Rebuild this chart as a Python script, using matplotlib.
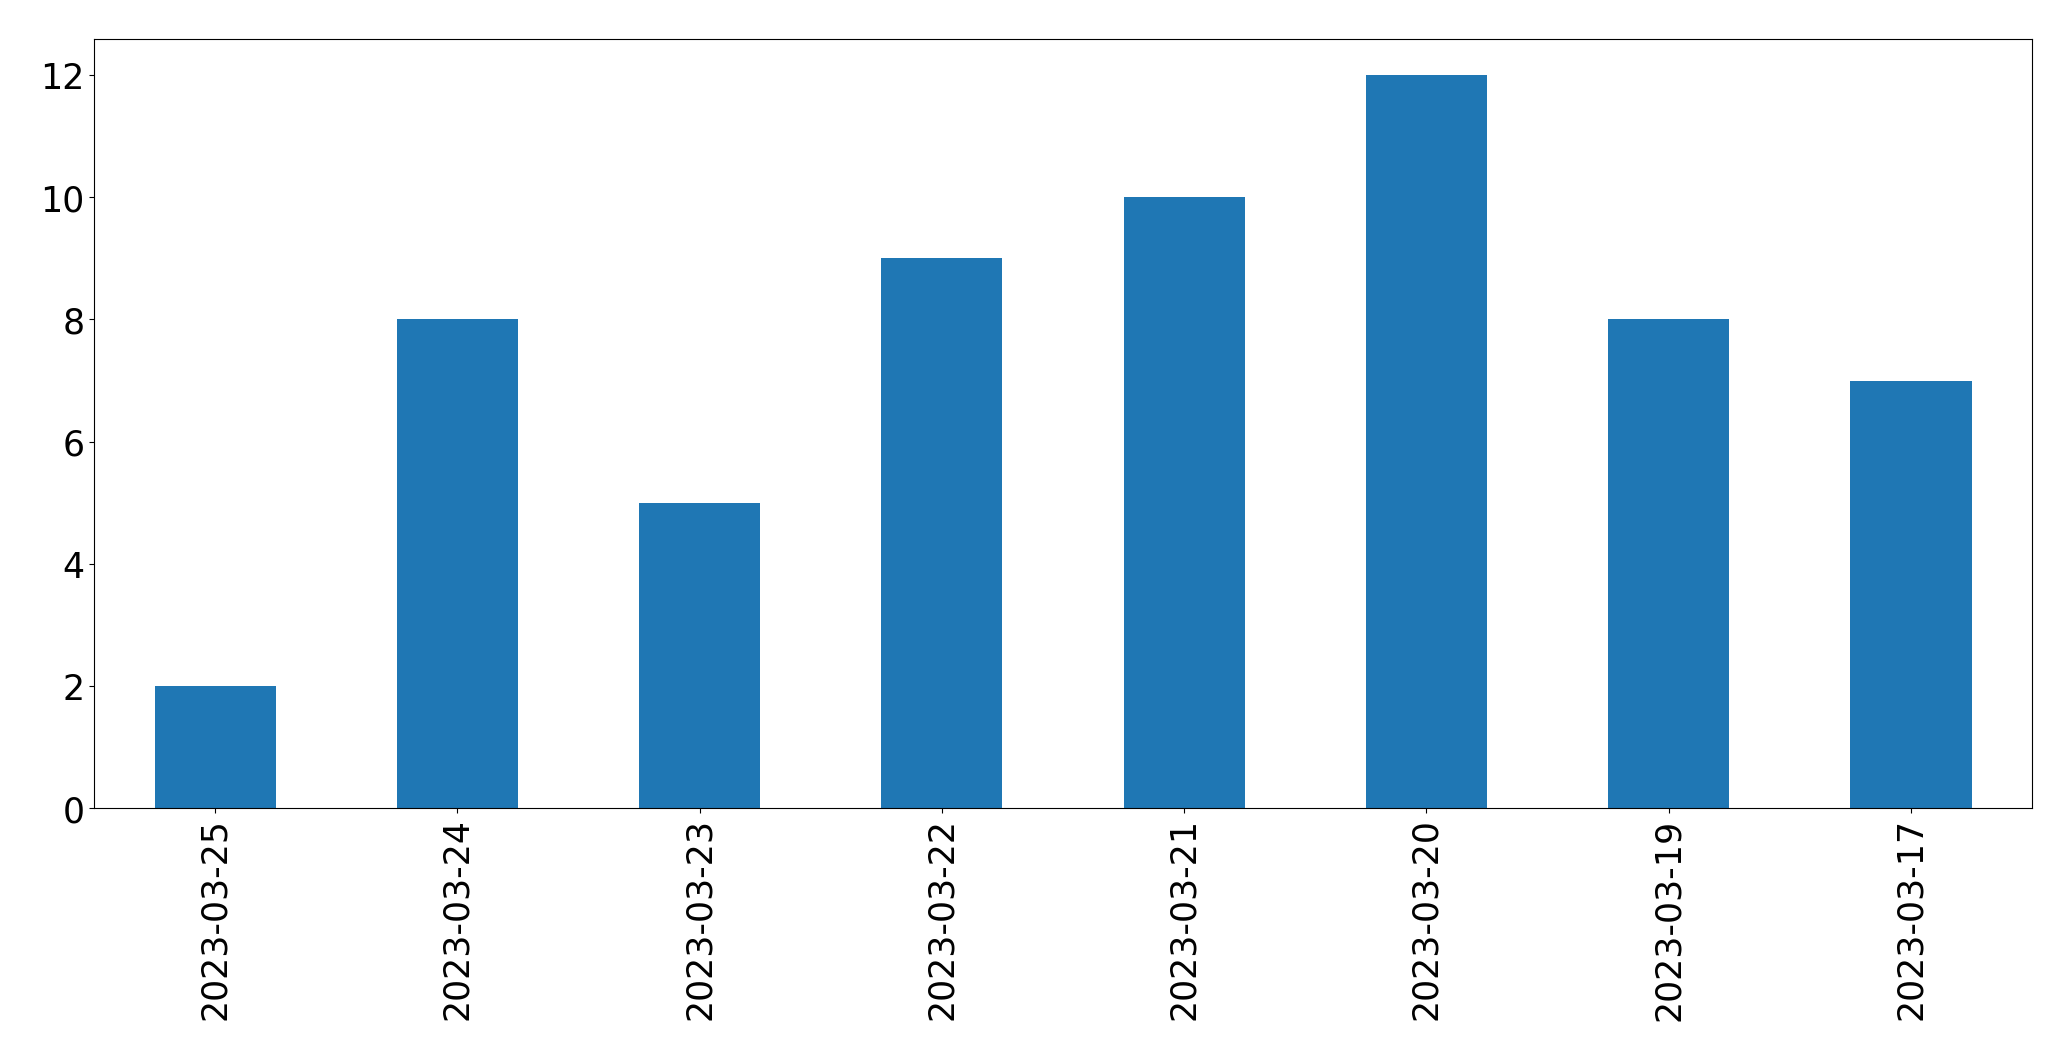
import matplotlib
matplotlib.use("Agg")
import matplotlib.pyplot as plt
import pandas as pd

dates = ["2023-03-25", "2023-03-24", "2023-03-23", "2023-03-22",
         "2023-03-21", "2023-03-20", "2023-03-19", "2023-03-17"]
counts = [2, 8, 5, 9, 10, 12, 8, 7]

s = pd.Series(counts, index=dates)

fig = plt.figure(figsize=(20.71, 10.605), dpi=100)
ax = fig.add_axes([0.0454, 0.2375, 0.9358, 0.7257])
s.plot(kind='bar', ax=ax, color='#1f77b4')
ax.tick_params(axis='both', labelsize=25)
ax.set_xlabel('')

fig.savefig("out.png", dpi=100)
